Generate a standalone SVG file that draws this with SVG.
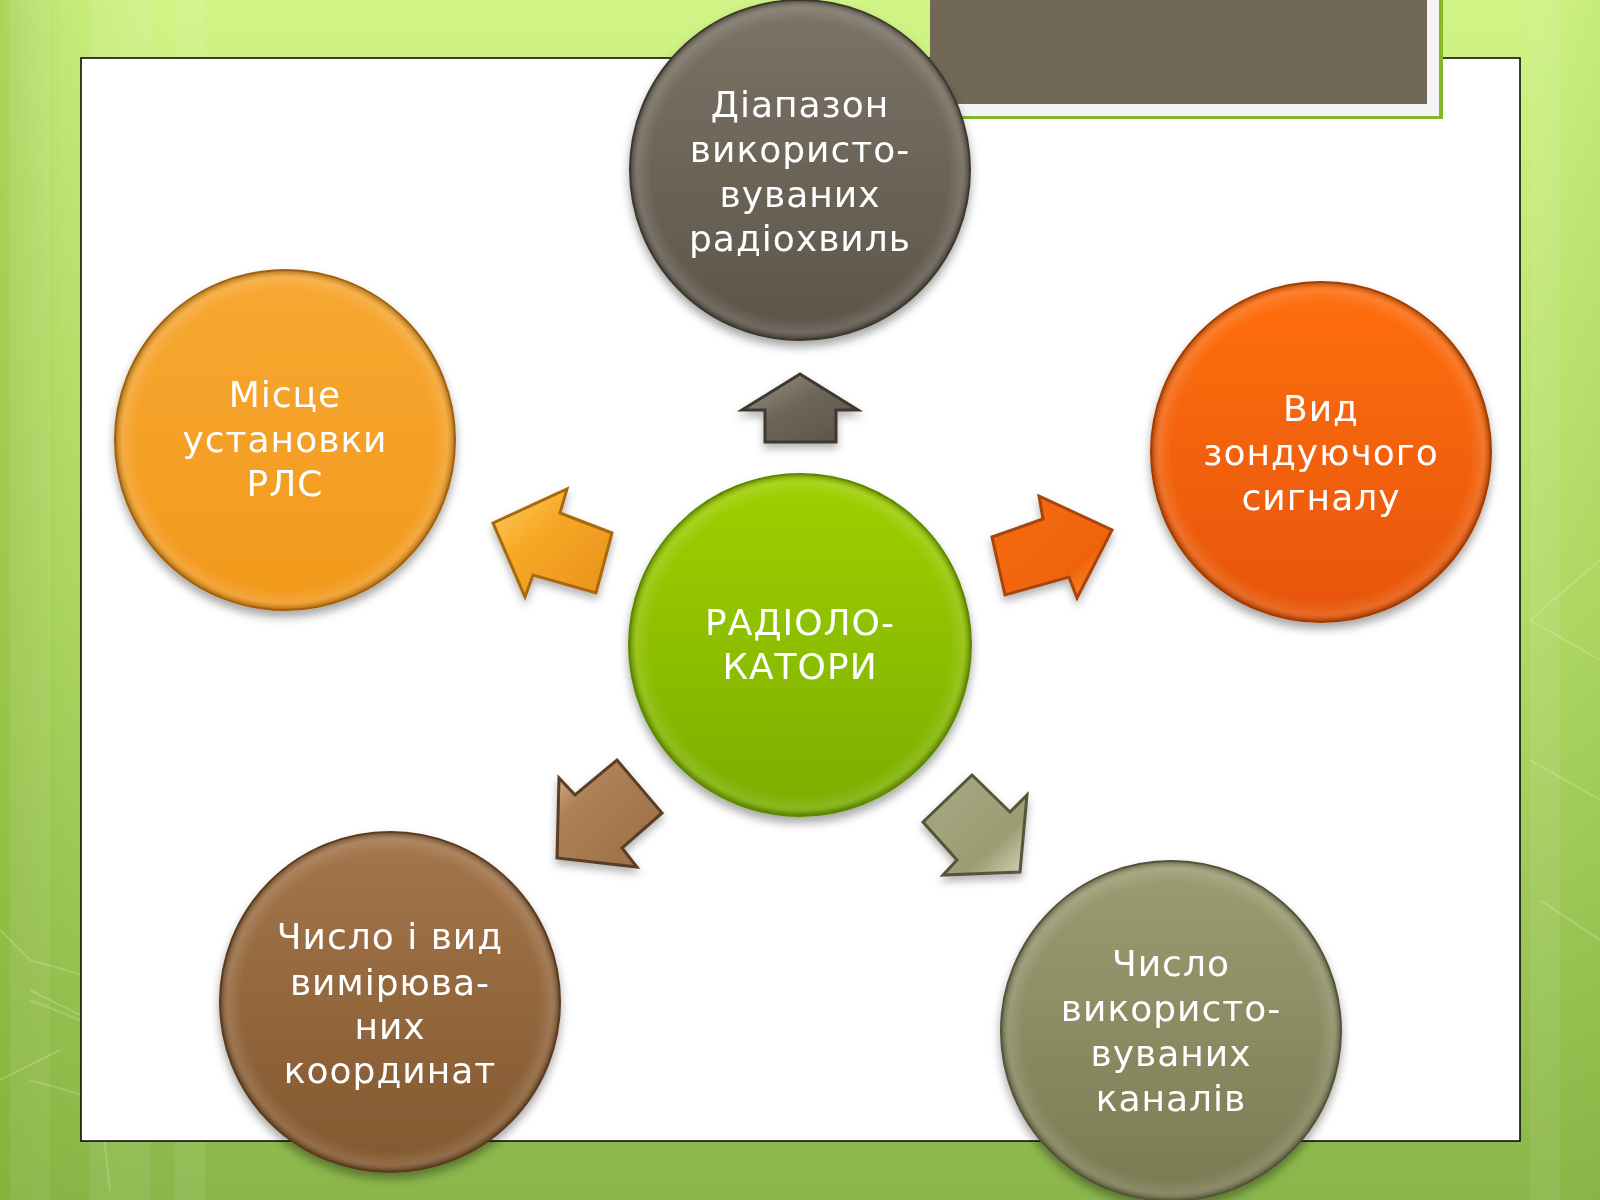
<svg xmlns="http://www.w3.org/2000/svg" width="1600" height="1200" viewBox="0 0 1600 1200">
<defs>
<linearGradient id="bg" x1="0" y1="0" x2="0" y2="1">
<stop offset="0" stop-color="#d0f486"/>
<stop offset="0.5" stop-color="#b2dc68"/>
<stop offset="1" stop-color="#8ab64a"/>
</linearGradient>
<linearGradient id="bgl" x1="0" y1="0" x2="1" y2="0">
<stop offset="0" stop-color="#7fae2a" stop-opacity="0.45"/>
<stop offset="0.04" stop-color="#7fae2a" stop-opacity="0.15"/>
<stop offset="0.1" stop-color="#7fae2a" stop-opacity="0"/>
<stop offset="0.95" stop-color="#7fae2a" stop-opacity="0"/>
<stop offset="1" stop-color="#7fae2a" stop-opacity="0.12"/>
</linearGradient>
<linearGradient id="gTop" x1="0" y1="0" x2="0" y2="1"><stop offset="0" stop-color="#7c7467"/><stop offset="1" stop-color="#5c5449"/></linearGradient>
<linearGradient id="gLeft" x1="0" y1="0" x2="0" y2="1"><stop offset="0" stop-color="#f7a832"/><stop offset="1" stop-color="#f2991c"/></linearGradient>
<linearGradient id="gRight" x1="0" y1="0" x2="0" y2="1"><stop offset="0" stop-color="#ff6f10"/><stop offset="1" stop-color="#e65508"/></linearGradient>
<linearGradient id="gCenter" x1="0" y1="0" x2="0" y2="1"><stop offset="0" stop-color="#a0d000"/><stop offset="1" stop-color="#7aae00"/></linearGradient>
<linearGradient id="gBL" x1="0" y1="0" x2="0" y2="1"><stop offset="0" stop-color="#a4764c"/><stop offset="1" stop-color="#82582f"/></linearGradient>
<linearGradient id="gBR" x1="0" y1="0" x2="0" y2="1"><stop offset="0" stop-color="#9d9d74"/><stop offset="1" stop-color="#7a7a53"/></linearGradient>
<radialGradient id="shine" cx="0.5" cy="0.5" r="0.5">
<stop offset="0.88" stop-color="#ffffff" stop-opacity="0"/>
<stop offset="0.96" stop-color="#ffffff" stop-opacity="0.12"/>
<stop offset="1" stop-color="#000000" stop-opacity="0.25"/>
</radialGradient>
<linearGradient id="aUp" x1="0" y1="0" x2="1" y2="1"><stop offset="0" stop-color="#a09888"/><stop offset="0.45" stop-color="#6e665a"/><stop offset="1" stop-color="#5a5246"/></linearGradient>
<linearGradient id="aLeft" x1="0" y1="0" x2="1" y2="1"><stop offset="0" stop-color="#ffd060"/><stop offset="0.4" stop-color="#f7a726"/><stop offset="1" stop-color="#e8921a"/></linearGradient>
<linearGradient id="aRight" x1="0" y1="0" x2="1" y2="1"><stop offset="0" stop-color="#f56a10"/><stop offset="0.7" stop-color="#f0640c"/><stop offset="1" stop-color="#f5a040"/></linearGradient>
<linearGradient id="aBL" x1="0" y1="0" x2="1" y2="1"><stop offset="0" stop-color="#e0b888"/><stop offset="0.3" stop-color="#ad8056"/><stop offset="1" stop-color="#9a6e44"/></linearGradient>
<linearGradient id="aBR" x1="0" y1="0" x2="1" y2="1"><stop offset="0" stop-color="#a8a882"/><stop offset="0.7" stop-color="#9c9c74"/><stop offset="1" stop-color="#d8d8b8"/></linearGradient>
<filter id="sh" x="-20%" y="-20%" width="140%" height="150%">
<feDropShadow dx="0" dy="6" stdDeviation="5" flood-color="#000" flood-opacity="0.35"/>
</filter>
<filter id="ash" x="-30%" y="-30%" width="160%" height="170%">
<feDropShadow dx="0" dy="5" stdDeviation="4" flood-color="#000" flood-opacity="0.3"/>
</filter>
</defs>
<style>
.lbl{font-family:"DejaVu Sans","Open Sans",sans-serif;font-size:36px;letter-spacing:1px;fill:#ffffff;text-anchor:middle}
.ring{fill:url(#shine)}
.arrow{stroke-width:3;stroke-linejoin:miter;filter:url(#ash)}
</style>

<!-- background -->
<rect x="0" y="0" width="1600" height="1200" fill="url(#bg)"/>
<rect x="0" y="0" width="1600" height="1200" fill="url(#bgl)"/>
<g fill="#ffffff" opacity="0.07">
<rect x="10" y="0" width="40" height="1200"/>
<rect x="90" y="0" width="60" height="1200"/>
<rect x="175" y="0" width="30" height="1200"/>
<rect x="1530" y="0" width="30" height="1200"/>
</g>
<g fill="none" stroke="#ffffff" stroke-opacity="0.18" stroke-width="2">
<polyline points="0,930 30,960 100,980 80,1020 30,1000"/>
<polyline points="30,990 130,1040 250,1020"/>
<polyline points="30,1080 100,1100 110,1190"/>
<polyline points="0,1080 60,1050"/>
<polyline points="1600,560 1530,620 1600,660"/>
<polyline points="1530,760 1600,800"/>
<polyline points="1540,900 1600,940"/>
</g>

<!-- white panel -->
<rect x="81" y="58" width="1439" height="1083" fill="#ffffff" stroke="#000000" stroke-width="1.5"/>

<!-- title bar -->
<g id="title-bar">
<rect x="930" y="-10" width="513" height="129" fill="#86b62a"/>
<rect x="930" y="-10" width="509" height="126" fill="#f4f4f4"/>
<rect x="930" y="-10" width="497" height="114" fill="#726858"/>
</g>

<!-- connectors -->
<g id="connectors">
<polygon class="arrow" fill="url(#aUp)" stroke="#3f392f" points="800,374 858,410 836,410 836,442 765,442 765,410 742,410"/>
<polygon class="arrow" fill="url(#aLeft)" stroke="#a8680e" points="493,523 567,489 560,513 612,533 596,593 533,575 525,597"/>
<polygon class="arrow" fill="url(#aRight)" stroke="#a84408" points="992,537 1043,519 1039,496 1112,530 1077,598 1069,577 1005,595"/>
<polygon class="arrow" fill="url(#aBL)" stroke="#5a3c20" points="557,858 559,778 575,795 617,760 662,813 622,848 637,867"/>
<polygon class="arrow" fill="url(#aBR)" stroke="#55553a" points="923,822 972,775 1010,812 1027,795 1020,872 943,875 957,860"/>
</g>

<!-- nodes -->
<g id="node-top" filter="url(#sh)">
<circle cx="800" cy="170" r="170" fill="url(#gTop)" stroke="#3e382f" stroke-width="2"/>
<circle cx="800" cy="170" r="169" class="ring"/>
<text class="lbl" x="800" y="117">Діапазон</text>
<text class="lbl" x="800" y="162">використо-</text>
<text class="lbl" x="800" y="207">вуваних</text>
<text class="lbl" x="800" y="251">радіохвиль</text>
</g>
<g id="node-left" filter="url(#sh)">
<circle cx="285" cy="440" r="170" fill="url(#gLeft)" stroke="#a0600c" stroke-width="2"/>
<circle cx="285" cy="440" r="169" class="ring"/>
<text class="lbl" x="285" y="407">Місце</text>
<text class="lbl" x="285" y="452">установки</text>
<text class="lbl" x="285" y="496">РЛС</text>
</g>
<g id="node-right" filter="url(#sh)">
<circle cx="1321" cy="452" r="170" fill="url(#gRight)" stroke="#a03c06" stroke-width="2"/>
<circle cx="1321" cy="452" r="169" class="ring"/>
<text class="lbl" x="1321" y="421">Вид</text>
<text class="lbl" x="1321" y="465">зондуючого</text>
<text class="lbl" x="1321" y="510">сигналу</text>
</g>
<g id="node-center" filter="url(#sh)">
<circle cx="800" cy="645" r="171" fill="url(#gCenter)" stroke="#5a8a00" stroke-width="2"/>
<circle cx="800" cy="645" r="170" class="ring"/>
<text class="lbl" x="800" y="635">РАДІОЛО-</text>
<text class="lbl" x="800" y="679">КАТОРИ</text>
</g>
<g id="node-bottom-left" filter="url(#sh)">
<circle cx="390" cy="1002" r="170" fill="url(#gBL)" stroke="#5a3a1c" stroke-width="2"/>
<circle cx="390" cy="1002" r="169" class="ring"/>
<text class="lbl" x="390" y="949">Число і вид</text>
<text class="lbl" x="390" y="995">вимірюва-</text>
<text class="lbl" x="390" y="1039">них</text>
<text class="lbl" x="390" y="1083">координат</text>
</g>
<g id="node-bottom-right" filter="url(#sh)">
<circle cx="1171" cy="1031" r="170" fill="url(#gBR)" stroke="#52523a" stroke-width="2"/>
<circle cx="1171" cy="1031" r="169" class="ring"/>
<text class="lbl" x="1171" y="976">Число</text>
<text class="lbl" x="1171" y="1021">використо-</text>
<text class="lbl" x="1171" y="1066">вуваних</text>
<text class="lbl" x="1171" y="1111">каналів</text>
</g>
</svg>
